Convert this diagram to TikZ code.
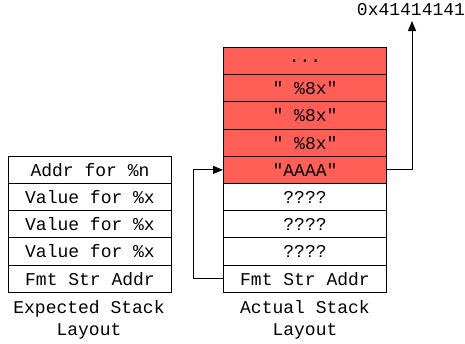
\documentclass[tikz,border=0pt]{standalone}
\usepackage{fontspec}
\newfontfamily\cour{Liberation Mono}
\usetikzlibrary{arrows.meta}
\definecolor{hot}{HTML}{FF5F57}
\tikzset{
  cell/.style={draw=black, line width=1pt, minimum width=163pt, minimum height=27.2pt,
    inner sep=0pt, anchor=north west, font=\cour\fontsize{18}{20}\selectfont},
  redcell/.style={cell, fill=hot},
  caption/.style={align=center, font=\cour\fontsize{18}{22}\selectfont},
  link/.style={line width=1pt, -{Triangle[length=10pt,width=8pt]}}
}
\begin{document}
\begin{tikzpicture}[x=1pt,y=-1pt]
\useasboundingbox (0,0) rectangle (465,343);
% expected layout
\node[cell] (e1) at (8,155.8) {Addr for \%n};
\node[cell] (e2) at (8,183.0) {Value for \%x};
\node[cell] (e3) at (8,210.2) {Value for \%x};
\node[cell] (e4) at (8,237.4) {Value for \%x};
\node[cell] (e5) at (8,264.6) {Fmt Str Addr};
\node[caption] (ecap) at (89,320) {Expected Stack\\Layout};
% actual layout
\node[redcell] (a1) at (223,47.0) {...};
\node[redcell] (a2) at (223,74.2) {" \%8x"};
\node[redcell] (a3) at (223,101.4) {" \%8x"};
\node[redcell] (a4) at (223,128.6) {" \%8x"};
\node[redcell] (a5) at (223,155.8) {"AAAA"};
\node[cell] (a6) at (223,183.0) {????};
\node[cell] (a7) at (223,210.2) {????};
\node[cell] (a8) at (223,237.4) {????};
\node[cell] (a9) at (223,264.6) {Fmt Str Addr};
\node[caption] (acap) at (305,320) {Actual Stack\\Layout};
% value read through %n
\node[font=\cour\fontsize{18}{20}\selectfont, anchor=center] (val) at (411,10) {0x41414141};
\coordinate (up) at (412,21);
\draw[link] (a5.east) -| (up);
\draw[link] (a9.west) -- ++(-30,0) |- (a5.west);
\end{tikzpicture}
\end{document}
